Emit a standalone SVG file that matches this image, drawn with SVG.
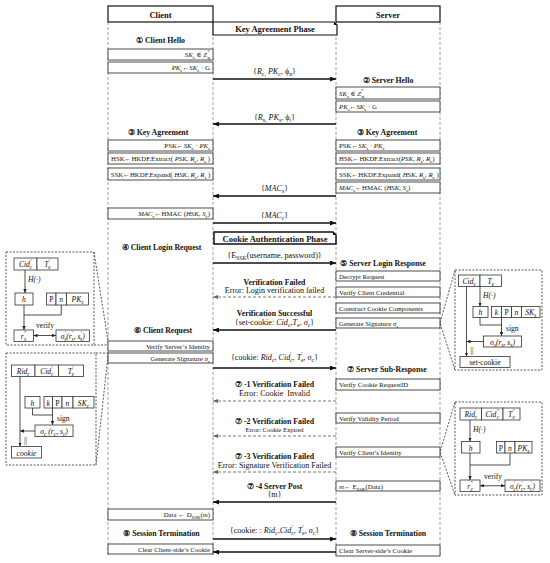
<svg xmlns="http://www.w3.org/2000/svg" width="550" height="563" viewBox="0 0 550 563">
<style>
.t{font-family:"Liberation Serif","DejaVu Serif",serif;fill:#111}
.hd{font-size:8.5px;font-weight:bold}
.sec{font-size:7.8px;font-weight:bold}
.bx{font-size:6.8px}
.lb{font-size:8.1px}
.er{font-size:8px}
.sm{font-size:6.5px}
.i{font-style:italic}
.s{font-size:72%;baseline-shift:-0.35em}
.u{font-size:72%;baseline-shift:0.75em}
.box{fill:#fff;stroke:#222;stroke-width:0.8}
.hb{fill:#fff;stroke:#111;stroke-width:1.2}
.life{stroke:#888;stroke-width:0.8;stroke-dasharray:3 2;fill:none}
.frm{stroke:#444;stroke-width:0.9;stroke-dasharray:2 1.5;fill:none}
.sol{stroke:#111;stroke-width:1.5;fill:none;marker-end:url(#a)}
.dsh{stroke:#777;stroke-width:1;stroke-dasharray:3 2;fill:none;marker-end:url(#ag)}
.ln{stroke:#222;stroke-width:0.8;fill:none}
.lna{stroke:#222;stroke-width:0.8;fill:none;marker-end:url(#am)}
.lnb{stroke:#222;stroke-width:0.8;fill:none;marker-end:url(#am);marker-start:url(#am)}
.mb{fill:#fff;stroke:#333;stroke-width:0.8}
.mt{font-size:7.6px}
</style>
<defs>
<marker id="a" markerUnits="userSpaceOnUse" markerWidth="6" markerHeight="5" refX="6" refY="2.5" orient="auto-start-reverse" viewBox="0 0 6 5"><path d="M0,0 L6,2.5 L0,5 z" fill="#111"/></marker>
<marker id="ag" markerUnits="userSpaceOnUse" markerWidth="5" markerHeight="4" refX="5" refY="2" orient="auto-start-reverse" viewBox="0 0 5 4"><path d="M0,0 L5,2 L0,4 z" fill="#666"/></marker>
<marker id="am" markerUnits="userSpaceOnUse" markerWidth="4" markerHeight="3.4" refX="4" refY="1.7" orient="auto-start-reverse" viewBox="0 0 4 3.4"><path d="M0,0 L4,1.7 L0,3.4 z" fill="#222"/></marker>
</defs>

<g id="lifelines">
<line class="life" x1="108" y1="22" x2="108" y2="556"/>
<line class="life" x1="213" y1="22" x2="213" y2="556"/>
<line class="life" x1="336" y1="22" x2="336" y2="556"/>
<line class="life" x1="440" y1="22" x2="440" y2="556"/>
</g>

<g id="client-header"><rect class="hb" x="108" y="6" width="105" height="16"/><text class="t hd" x="160.5" y="17.5" text-anchor="middle">Client</text></g>
<g id="server-header"><rect class="hb" x="336" y="6" width="104" height="16"/><text class="t hd" x="388" y="17.5" text-anchor="middle">Server</text></g>

<g id="phase-key"><path class="hb" d="M213,22 H334 L337,25 V35 H213 Z"/><path d="M334,22 L337,25 L334,25 Z" fill="#111"/><text class="t hd" x="275" y="31.5" text-anchor="middle">Key Agreement Phase</text></g>
<g id="phase-cookie"><path class="hb" style="stroke-width:1.5" d="M214,232 H333 L336,235 V244 H214 Z"/><path d="M333,232 L336,235 L333,235 Z" fill="#111"/><text class="t hd" x="275" y="241.5" text-anchor="middle">Cookie Authentication Phase</text></g>

<g id="labels">
<text class="t sec" x="160.5" y="43" text-anchor="middle">① Client Hello</text>
<text class="t sec" x="388" y="83" text-anchor="middle">② Server Hello</text>
<text class="t sec" x="158" y="135" text-anchor="middle">③ Key Agreement</text>
<text class="t sec" x="387" y="135" text-anchor="middle">③ Key Agreement</text>
<text class="t sec" x="161.5" y="250" text-anchor="middle">④ Client Login Request</text>
<text class="t sec" x="383" y="266" text-anchor="middle">⑤ Server Login Response</text>
<text class="t sec" x="163" y="333" text-anchor="middle">⑥ Client Request</text>
<text class="t sec" x="387" y="372" text-anchor="middle">⑦ Server Sub-Response</text>
<text class="t sec" x="161.5" y="536" text-anchor="middle">⑧ Session Termination</text>
<text class="t sec" x="388" y="536" text-anchor="middle">⑧ Session Termination</text>
</g>

<g id="c-skc"><rect class="box" x="108" y="49" width="105" height="11"/><text class="t bx" x="210" y="57" text-anchor="end"><tspan class="i">SK</tspan><tspan class="s">c</tspan> ∈ <tspan class="i">Z</tspan><tspan class="u">*</tspan><tspan class="s" dx="-2">q</tspan></text></g>
<g id="c-pkc"><rect class="box" x="108" y="62" width="105" height="11"/><text class="t bx" x="210" y="70" text-anchor="end"><tspan class="i">PK</tspan><tspan class="s">c</tspan>←<tspan class="i">SK</tspan><tspan class="s">c</tspan> · G</text></g>
<g id="c-psk"><rect class="box" x="108" y="140" width="105" height="11"/><text class="t bx" x="210" y="148" text-anchor="end">PSK←<tspan class="i">SK</tspan><tspan class="s">c</tspan> · <tspan class="i">PK</tspan><tspan class="s">s</tspan></text></g>
<g id="c-hsk"><rect class="box" x="108" y="153" width="105" height="11"/><text class="t bx" x="160.5" y="161" text-anchor="middle">HSK←HKDF.Extract( <tspan class="i">PSK</tspan>, <tspan class="i">R</tspan><tspan class="s">c</tspan>, <tspan class="i">R</tspan><tspan class="s">s</tspan> )</text></g>
<g id="c-ssk"><rect class="box" x="108" y="168" width="105" height="12"/><text class="t bx" x="160.5" y="176.5" text-anchor="middle">SSK←HKDF.Expand( <tspan class="i">HSK</tspan>, <tspan class="i">R</tspan><tspan class="s">c</tspan>, <tspan class="i">R</tspan><tspan class="s">s</tspan> )</text></g>
<g id="c-macc"><rect class="box" x="108" y="208" width="105" height="11"/><text class="t bx" x="210" y="216" text-anchor="end"><tspan class="i">MAC</tspan><tspan class="s">c</tspan>←HMAC (<tspan class="i">HSK</tspan>, <tspan class="i">S</tspan><tspan class="s">c</tspan>)</text></g>
<g id="c-verify"><rect class="box" x="108" y="341" width="105" height="10"/><text class="t bx" x="210" y="348.5" text-anchor="end">Verify Server’s Identity</text></g>
<g id="c-gensig"><rect class="box" x="108" y="353" width="105" height="10"/><text class="t bx" x="210" y="360.5" text-anchor="end">Generate  Signature <tspan class="i">σ</tspan><tspan class="s">c</tspan></text></g>
<g id="c-data"><rect class="box" x="108" y="509" width="105" height="11"/><text class="t bx" x="210" y="517" text-anchor="end">Data ← D<tspan class="s">SSK</tspan>(<tspan class="i">m</tspan>)</text></g>
<g id="c-clear"><rect class="box" x="108" y="544" width="105" height="10"/><text class="t bx" x="210" y="551.5" text-anchor="end">Clear Client-side’s Cookie</text></g>

<g id="s-sks"><rect class="box" x="336" y="87" width="104" height="12"/><text class="t bx" x="339" y="95.5"><tspan class="i">SK</tspan><tspan class="s">s</tspan> ∈ <tspan class="i">Z</tspan><tspan class="u">*</tspan><tspan class="s" dx="-2">q</tspan></text></g>
<g id="s-pks"><rect class="box" x="336" y="101" width="104" height="11"/><text class="t bx" x="339" y="109"><tspan class="i">PK</tspan><tspan class="s">s</tspan>←<tspan class="i">SK</tspan><tspan class="s">s</tspan> · G</text></g>
<g id="s-psk"><rect class="box" x="336" y="140" width="104" height="11"/><text class="t bx" x="339" y="148">PSK←<tspan class="i">SK</tspan><tspan class="s">s</tspan> · <tspan class="i">PK</tspan><tspan class="s">c</tspan></text></g>
<g id="s-hsk"><rect class="box" x="336" y="153" width="104" height="11"/><text class="t bx" x="339" y="161">HSK←HKDF.Extract(<tspan class="i">PSK</tspan>, <tspan class="i">R</tspan><tspan class="s">s</tspan>, <tspan class="i">R</tspan><tspan class="s">c</tspan>)</text></g>
<g id="s-ssk"><rect class="box" x="336" y="168" width="104" height="12"/><text class="t bx" x="339" y="176.5">SSK←HKDF.Expand( <tspan class="i">HSK</tspan>, <tspan class="i">R</tspan><tspan class="s">s</tspan>, <tspan class="i">R</tspan><tspan class="s">c</tspan> )</text></g>
<g id="s-macs"><rect class="box" x="336" y="182" width="104" height="11"/><text class="t bx" x="339" y="190"><tspan class="i">MAC</tspan><tspan class="s">s</tspan>←HMAC (<tspan class="i">HSK</tspan>, <tspan class="i">S</tspan><tspan class="s">s</tspan>)</text></g>
<g id="s-decrypt"><rect class="box" x="336" y="271" width="104" height="10"/><text class="t bx" x="339" y="278.5">Decrypt Request</text></g>
<g id="s-vcred"><rect class="box" x="336" y="287" width="104" height="10"/><text class="t bx" x="339" y="294.5">Verify Client Credential</text></g>
<g id="s-construct"><rect class="box" x="336" y="303" width="104" height="10"/><text class="t bx" x="339" y="310.5">Construct Cookie Components</text></g>
<g id="s-gensig"><rect class="box" x="336" y="318" width="104" height="10"/><text class="t bx" x="339" y="325.5">Generate  Signature <tspan class="i">σ</tspan><tspan class="s">s</tspan></text></g>
<g id="s-vreq"><rect class="box" x="336" y="379" width="104" height="11"/><text class="t bx" x="339" y="387">Verify Cookie RequestID</text></g>
<g id="s-vper"><rect class="box" x="336" y="413" width="104" height="10"/><text class="t bx" x="339" y="420.5">Verify Validity Period</text></g>
<g id="s-vid"><rect class="box" x="336" y="447" width="104" height="10"/><text class="t bx" x="339" y="454.5">Verify Client’s Identity</text></g>
<g id="s-enc"><rect class="box" x="336" y="481" width="104" height="10"/><text class="t bx" x="339" y="488.5"><tspan class="i">m</tspan>← E<tspan class="s">SSK</tspan>(Data)</text></g>
<g id="s-clear"><rect class="box" x="336" y="545" width="104" height="11"/><text class="t bx" x="339" y="553">Clear Server-side’s Cookie</text></g>

<g id="connectors">
<line class="sol" x1="213" y1="79" x2="336" y2="79"/>
<line class="sol" x1="336" y1="124" x2="213" y2="124"/>
<line class="sol" x1="336" y1="196" x2="213" y2="196"/>
<line class="sol" x1="213" y1="223" x2="336" y2="223"/>
<line class="sol" x1="213" y1="263" x2="336" y2="263"/>
<line class="dsh" x1="336" y1="297" x2="213" y2="297"/>
<line class="sol" x1="336" y1="330" x2="213" y2="330"/>
<line class="sol" x1="213" y1="368" x2="336" y2="368"/>
<line class="dsh" x1="336" y1="401" x2="213" y2="401"/>
<line class="dsh" x1="336" y1="436" x2="213" y2="436"/>
<line class="dsh" x1="336" y1="472" x2="213" y2="472"/>
<line class="sol" x1="336" y1="502" x2="213" y2="502"/>
<line class="sol" x1="213" y1="539" x2="336" y2="539"/>
<line class="sol" x1="336" y1="552" x2="213" y2="552"/>
</g>

<g id="connector-labels">
<text class="t lb" x="274.5" y="74" text-anchor="middle">{<tspan class="i">R</tspan><tspan class="s">c,</tspan> <tspan class="i">PK</tspan><tspan class="s">c</tspan>, ϕ<tspan class="s">n</tspan>}</text>
<text class="t lb" x="274.5" y="119.5" text-anchor="middle">{<tspan class="i">R</tspan><tspan class="s">s,</tspan> <tspan class="i">PK</tspan><tspan class="s">s</tspan>, ϕ<tspan class="s">t</tspan>}</text>
<text class="t lb" x="274.5" y="191" text-anchor="middle">{<tspan class="i">MAC</tspan><tspan class="s">s</tspan>}</text>
<text class="t lb" x="274.5" y="218" text-anchor="middle">{<tspan class="i">MAC</tspan><tspan class="s">c</tspan>}</text>
<text class="t lb" x="274.5" y="257.5" text-anchor="middle">{E<tspan class="s">SSK</tspan>(username, password)}</text>
<text class="t sec" x="274.5" y="284.5" text-anchor="middle">Verification Failed</text>
<text class="t er" x="274.5" y="293" text-anchor="middle">Error: Login verification failed</text>
<text class="t sec" x="274.5" y="316" text-anchor="middle">Verification Successful</text>
<text class="t lb" x="274.5" y="324.5" text-anchor="middle">{set-cookie: <tspan class="i">Cid</tspan><tspan class="s">c</tspan>,<tspan class="i">T</tspan><tspan class="s">e</tspan>, <tspan class="i">σ</tspan><tspan class="s">c</tspan>}</text>
<text class="t lb" x="274.5" y="360" text-anchor="middle">{cookie: <tspan class="i">Rid</tspan><tspan class="s">c</tspan>, <tspan class="i">Cid</tspan><tspan class="u">′</tspan><tspan class="s" dx="-1.5">c</tspan>, <tspan class="i">T</tspan><tspan class="u">′</tspan><tspan class="s" dx="-1.5">e</tspan>, <tspan class="i">σ</tspan><tspan class="s">c</tspan>}</text>
<text class="t sec" x="274.5" y="387" text-anchor="middle">⑦ -1 Verification Failed</text>
<text class="t er" x="274.5" y="396" text-anchor="middle">Error: Cookie &#160;Invalid</text>
<text class="t sec" x="274.5" y="424" text-anchor="middle">⑦ -2 Verification Failed</text>
<text class="t sm" x="274.5" y="432" text-anchor="middle">Error: Cookie Expired</text>
<text class="t sec" x="274.5" y="458.5" text-anchor="middle">⑦ -3 Verification Failed</text>
<text class="t er" x="274.5" y="467.5" text-anchor="middle">Error: Signature Verification Failed</text>
<text class="t sec" x="274.5" y="488.5" text-anchor="middle">⑦ -4 Server Post</text>
<text class="t lb" x="274.5" y="496.5" text-anchor="middle">{m}</text>
<text class="t lb" x="274.5" y="532.5" text-anchor="middle">{cookie: : <tspan class="i">Rid</tspan><tspan class="s">c</tspan>,<tspan class="i">Cid</tspan><tspan class="u">′</tspan><tspan class="s" dx="-1.5">c</tspan>, <tspan class="i">T</tspan><tspan class="u">′</tspan><tspan class="s" dx="-1.5">e</tspan>, <tspan class="i">σ</tspan><tspan class="s">c</tspan>}</text>
</g>

<g id="detail-verify-server">
<rect class="frm" x="6" y="252" width="88" height="93"/>
<path class="frm" d="M94,252 L108,341 M94,345 H108"/>
<rect class="mb" x="14" y="258" width="23" height="12"/><text class="t mt i" x="25.5" y="267" text-anchor="middle">Cid<tspan class="u">′</tspan><tspan class="s" dx="-1.5">c</tspan></text>
<rect class="mb" x="37" y="258" width="21" height="12"/><text class="t mt i" x="47.5" y="267" text-anchor="middle">T<tspan class="u">′</tspan><tspan class="s" dx="-1.5">e</tspan></text>
<line class="lna" x1="25" y1="270" x2="25" y2="293"/>
<text class="t mt i" x="28" y="282">H(·)</text>
<rect class="mb" x="15" y="293" width="18" height="12"/><text class="t mt i" x="24" y="302" text-anchor="middle">h</text>
<rect class="mb" x="46.5" y="293" width="9.5" height="12"/><text class="t mt" x="51.25" y="302" text-anchor="middle">P</text>
<rect class="mb" x="56" y="293" width="10.5" height="12"/><text class="t mt i" x="61.25" y="302" text-anchor="middle">n</text>
<rect class="mb" x="66.5" y="293" width="22" height="12"/><text class="t mt i" x="77.5" y="302" text-anchor="middle">PK<tspan class="s">s</tspan></text>
<line class="lna" x1="24" y1="305" x2="24" y2="330"/>
<path class="ln" d="M61.25,305 V315 H24"/>
<rect class="mb" x="14" y="330" width="19.5" height="11.5"/><text class="t mt i" x="23.5" y="339" text-anchor="middle">r<tspan class="u">″</tspan><tspan class="s" dx="-2">s</tspan></text>
<text class="t mt" x="36" y="328">verify</text>
<line class="lnb" x1="33.5" y1="335.5" x2="56" y2="335.5"/>
<rect class="mb" x="56" y="330" width="33.5" height="11.5"/><text class="t mt i" x="72.75" y="339" text-anchor="middle">σ<tspan class="u">′</tspan><tspan class="s" dx="-1.5">s</tspan>(r<tspan class="u">′</tspan><tspan class="s" dx="-1.5">s</tspan>, s<tspan class="u">′</tspan><tspan class="s" dx="-1.5">s</tspan>)</text>
</g>

<g id="detail-client-sign">
<rect class="frm" x="6" y="353" width="90" height="112"/>
<path class="frm" d="M96,353 H108 M108,356 L96,465"/>
<rect class="mb" x="11.5" y="365" width="23.5" height="11.5"/><text class="t mt i" x="23.25" y="374" text-anchor="middle">Rid<tspan class="s">c</tspan></text>
<rect class="mb" x="35" y="365" width="23.5" height="11.5"/><text class="t mt i" x="46.75" y="374" text-anchor="middle">Cid<tspan class="u">′</tspan><tspan class="s" dx="-1.5">c</tspan></text>
<rect class="mb" x="58.5" y="365" width="25" height="11.5"/><text class="t mt i" x="71" y="374" text-anchor="middle">T<tspan class="u">′</tspan><tspan class="s" dx="-1.5">e</tspan></text>
<rect class="mb" x="25" y="396.5" width="15" height="11.5"/><text class="t mt i" x="32.5" y="405.5" text-anchor="middle">h</text>
<rect class="mb" x="44" y="396.5" width="8.5" height="11.5"/><text class="t mt i" x="48.25" y="405.5" text-anchor="middle">k</text>
<rect class="mb" x="52.5" y="396.5" width="9.5" height="11.5"/><text class="t mt" x="57.25" y="405.5" text-anchor="middle">P</text>
<rect class="mb" x="62" y="396.5" width="11" height="11.5"/><text class="t mt i" x="67.5" y="405.5" text-anchor="middle">n</text>
<rect class="mb" x="73" y="396.5" width="21" height="11.5"/><text class="t mt i" x="83.5" y="405.5" text-anchor="middle">SK<tspan class="s">c</tspan></text>
<path class="ln" d="M32.5,408 V415 H52.5"/>
<line class="lna" x1="52.5" y1="408" x2="52.5" y2="425"/>
<text class="t mt" x="57" y="421">sign</text>
<rect class="mb" x="35" y="425" width="38" height="11.5"/><text class="t mt i" x="54" y="434" text-anchor="middle">σ<tspan class="s">c</tspan> (r<tspan class="s">c</tspan>, s<tspan class="s">c</tspan>)</text>
<line class="lna" x1="35" y1="431" x2="20" y2="431"/>
<line class="lna" x1="20" y1="376.5" x2="20" y2="446.5"/>
<text class="t mt" x="24" y="443">||</text>
<rect class="mb" x="11.5" y="446.5" width="30" height="11.5"/><text class="t mt i" x="26.5" y="455.5" text-anchor="middle">cookie</text>
</g>

<g id="detail-server-sign">
<rect class="frm" x="455" y="270" width="87" height="100"/>
<path class="frm" d="M455,270 L440,323 L455,370"/>
<rect class="mb" x="458.5" y="275" width="21.5" height="11.5"/><text class="t mt i" x="469.25" y="284" text-anchor="middle">Cid<tspan class="s">c</tspan></text>
<rect class="mb" x="480" y="275" width="21.5" height="11.5"/><text class="t mt i" x="490.75" y="284" text-anchor="middle">T<tspan class="s">e</tspan></text>
<line class="lna" x1="480" y1="286.5" x2="480" y2="306.5"/>
<text class="t mt i" x="483" y="298">H(·)</text>
<rect class="mb" x="473" y="306.5" width="15" height="11"/><text class="t mt i" x="480.5" y="315" text-anchor="middle">h</text>
<rect class="mb" x="491.5" y="306.5" width="10" height="11"/><text class="t mt i" x="496.5" y="315" text-anchor="middle">k</text>
<rect class="mb" x="501.5" y="306.5" width="10" height="11"/><text class="t mt" x="506.5" y="315" text-anchor="middle">P</text>
<rect class="mb" x="511.5" y="306.5" width="10" height="11"/><text class="t mt i" x="516.5" y="315" text-anchor="middle">n</text>
<rect class="mb" x="521.5" y="306.5" width="18.5" height="11"/><text class="t mt i" x="530.75" y="315" text-anchor="middle">SK<tspan class="s">s</tspan></text>
<path class="ln" d="M480,317.5 V325 H501.5"/>
<line class="lna" x1="501.5" y1="317.5" x2="501.5" y2="336"/>
<text class="t mt" x="506" y="331">sign</text>
<rect class="mb" x="483.5" y="336" width="38" height="11"/><text class="t mt i" x="502.5" y="344.5" text-anchor="middle">σ<tspan class="s">s</tspan>(r<tspan class="s">s</tspan>, s<tspan class="s">s</tspan>)</text>
<line class="lna" x1="483.5" y1="341.5" x2="466.5" y2="341.5"/>
<line class="lna" x1="466.5" y1="286.5" x2="466.5" y2="356.5"/>
<text class="t mt" x="470.5" y="353">||</text>
<rect class="mb" x="460" y="356.5" width="50" height="11"/><text class="t mt" x="485" y="365" text-anchor="middle">set-cookie</text>
</g>

<g id="detail-verify-client">
<rect class="frm" x="455" y="402" width="87" height="93"/>
<path class="frm" d="M455,402 L440,452 L455,495"/>
<rect class="mb" x="460" y="408" width="21.5" height="12"/><text class="t mt i" x="470.75" y="417" text-anchor="middle">Rid<tspan class="u">′</tspan><tspan class="s" dx="-1.5">c</tspan></text>
<rect class="mb" x="481.5" y="408" width="21.5" height="12"/><text class="t mt i" x="492.25" y="417" text-anchor="middle">Cid<tspan class="u">″</tspan><tspan class="s" dx="-2">c</tspan></text>
<rect class="mb" x="503" y="408" width="17" height="12"/><text class="t mt i" x="511.5" y="417" text-anchor="middle">T<tspan class="u">″</tspan><tspan class="s" dx="-2">e</tspan></text>
<line class="lna" x1="470" y1="420" x2="470" y2="441.5"/>
<text class="t mt i" x="473" y="432">H(·)</text>
<rect class="mb" x="461.5" y="441.5" width="18.5" height="11.5"/><text class="t mt i" x="470.75" y="450.5" text-anchor="middle">h</text>
<rect class="mb" x="496.5" y="441.5" width="8.5" height="11.5"/><text class="t mt" x="500.75" y="450.5" text-anchor="middle">P</text>
<rect class="mb" x="505" y="441.5" width="10" height="11.5"/><text class="t mt i" x="510" y="450.5" text-anchor="middle">n</text>
<rect class="mb" x="515" y="441.5" width="17" height="11.5"/><text class="t mt i" x="523.5" y="450.5" text-anchor="middle">PK<tspan class="s">s</tspan></text>
<line class="lna" x1="470" y1="453" x2="470" y2="480"/>
<path class="ln" d="M510,453 V465 H470"/>
<rect class="mb" x="460" y="480" width="20" height="11.5"/><text class="t mt i" x="470" y="489" text-anchor="middle">r<tspan class="u">″</tspan><tspan class="s" dx="-2">c</tspan></text>
<text class="t mt" x="484" y="478.5">verify</text>
<line class="lnb" x1="480" y1="485.75" x2="505" y2="485.75"/>
<rect class="mb" x="505" y="480" width="35" height="11.5"/><text class="t mt i" x="522.5" y="489" text-anchor="middle">σ<tspan class="u">′</tspan><tspan class="s" dx="-1.5">c</tspan>(r<tspan class="u">′</tspan><tspan class="s" dx="-1.5">c</tspan>, s<tspan class="u">′</tspan><tspan class="s" dx="-1.5">c</tspan>)</text>
</g>
</svg>
